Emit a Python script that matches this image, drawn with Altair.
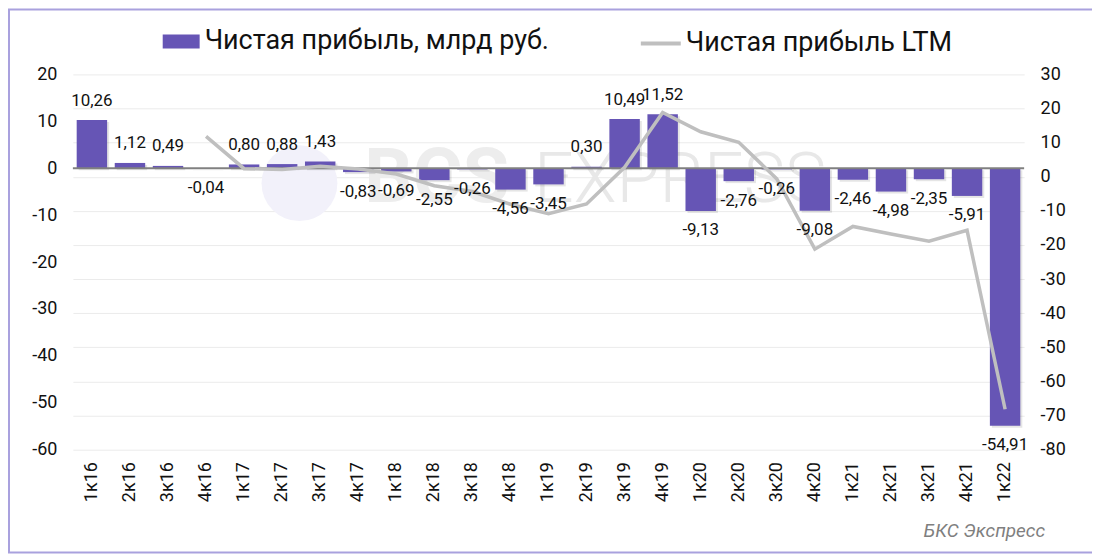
import altair as alt
import pandas as pd

quarters = ["1к16", "2к16", "3к16", "4к16", "1к17", "2к17", "3к17", "4к17",
            "1к18", "2к18", "3к18", "4к18", "1к19", "2к19", "3к19", "4к19",
            "1к20", "2к20", "3к20", "4к20", "1к21", "2к21", "3к21", "4к21", "1к22"]
profit = [10.26, 1.12, 0.49, -0.04, 0.80, 0.88, 1.43, -0.83,
          -0.69, -2.55, -0.26, -4.56, -3.45, 0.30, 10.49, 11.52,
          -9.13, -2.76, -0.26, -9.08, -2.46, -4.98, -2.35, -5.91, -54.91]
ltm = [None, None, None, 11.83, 2.37, 2.13, 3.07, 2.28,
       0.79, -2.64, -4.33, -8.06, -10.82, -7.97, 2.78, 18.86,
       13.18, 10.12, -0.63, -21.23, -14.56, -16.78, -18.87, -15.70, -68.15]
bar_name = "Чистая прибыль, млрд руб."
line_name = "Чистая прибыль LTM"
left_ticks = [-60, -50, -40, -30, -20, -10, 0, 10, 20]
right_ticks = [-80, -70, -60, -50, -40, -30, -20, -10, 0, 10, 20, 30]
source_text = "БКС Экспресс"
wm_bold = "BCS"
wm_light = "EXPRESS"

FONT = "Roboto"
PURPLE = "#6655B5"
LINE_GRAY = "#BFBFBF"
TXT = "#111111"

df = pd.DataFrame({"q": quarters, "v": profit, "ltm": ltm})
df["label"] = [f"{v:.2f}".replace(".", ",") for v in profit]
df["series"] = bar_name
df["series2"] = line_name

x = alt.X("q:N", sort=quarters,
          scale=alt.Scale(paddingInner=0.2, paddingOuter=0.1),
          axis=alt.Axis(title=None, labelAngle=-90, labelFont=FONT, labelFontSize=18,
                        labelColor=TXT, labelPadding=12, ticks=False, domain=False, grid=False))

left_scale = alt.Scale(domain=[-60, 20], nice=False, zero=False)
left_axis = alt.Axis(title=None, values=left_ticks, orient="left", grid=False,
                     ticks=False, tickSize=0, domain=False, labelPadding=16,
                     labelFont=FONT, labelFontSize=18, labelColor=TXT,
                     labelExpr="'' + datum.value")
yL = alt.Y("v:Q", scale=left_scale, axis=left_axis)
yL_noaxis = alt.Y("v:Q", scale=left_scale, axis=None)

base = alt.Chart(df)

shadow = base.mark_bar(color="#000000", opacity=0.10, xOffset=2, yOffset=2).encode(x=x, y=yL)

bars = base.mark_bar().encode(
    x=x, y=yL,
    color=alt.Color("series:N",
                    scale=alt.Scale(domain=[bar_name], range=[PURPLE]),
                    legend=alt.Legend(title=None, orient="none", legendX=90, legendY=-51.5,
                                      symbolType="M-1,-0.38L1,-0.38L1,0.38L-1,0.38Z",
                                      symbolSize=1369, symbolStrokeWidth=0,
                                      labelFont=FONT, labelFontSize=27, labelColor=TXT,
                                      labelLimit=600, labelOffset=5, padding=0)),
)

zero_rule = alt.Chart(pd.DataFrame({"z": [0]})).mark_rule(color="#808080", strokeWidth=2).encode(
    y=alt.Y("z:Q", scale=left_scale, axis=left_axis)
)

left_layer = alt.layer(shadow, bars, zero_rule)

lab_pos = base.transform_filter("datum.v >= 0").mark_text(
    font=FONT, fontSize=17, color=TXT, baseline="middle", dy=-19.5
).encode(x=x, y=yL_noaxis, text="label:N")
lab_neg = base.transform_filter("datum.v < 0").mark_text(
    font=FONT, fontSize=17, color=TXT, baseline="middle", dy=19.5
).encode(x=x, y=yL_noaxis, text="label:N")
labels = alt.layer(lab_pos, lab_neg)

line = base.mark_line(strokeWidth=3.5).encode(
    x=x,
    y=alt.Y("ltm:Q", scale=alt.Scale(domain=[-80, 30], nice=False, zero=False),
            axis=alt.Axis(title=None, values=right_ticks, orient="right", grid=True,
                          gridColor="#EBEBEB", gridWidth=1, ticks=False, tickSize=0,
                          domain=False, labelPadding=16, labelFont=FONT, labelFontSize=18,
                          labelColor=TXT, labelExpr="'' + datum.value")),
    stroke=alt.Stroke("series2:N",
                      scale=alt.Scale(domain=[line_name], range=[LINE_GRAY]),
                      legend=alt.Legend(title=None, orient="none", legendX=567, legendY=-53,
                                        symbolType="stroke", symbolSize=1600,
                                        symbolStrokeWidth=4,
                                        labelFont=FONT, labelFontSize=27, labelColor=TXT,
                                        labelLimit=600, labelOffset=3, padding=0)),
)

one = alt.Data(values=[{"a": 1}])
circle = alt.Chart(one).mark_point(filled=True, shape="circle", size=5776,
                                   color="#F2F1FA", opacity=1).encode(
    x=alt.value(227), y=alt.value(109))
wm1 = alt.Chart(one).mark_text(text=wm_bold, font=FONT, fontSize=76, fontWeight="bold",
                               color="#EDEDED", align="left", baseline="alphabetic").encode(
    x=alt.value(292), y=alt.value(128))
wm2 = alt.Chart(one).mark_text(text=wm_light, font=FONT, fontSize=70, fontWeight=300,
                               color="#E8E8E8", align="left", baseline="alphabetic").encode(
    x=alt.value(462), y=alt.value(128))
border = alt.Chart(one).mark_rect(fillOpacity=0, stroke="#A9A1DE", strokeWidth=2).encode(
    x=alt.value(-64), x2=alt.value(1022), y=alt.value(-65), y2=alt.value(479))
source = alt.Chart(one).mark_text(text=source_text, font=FONT, fontStyle="italic", fontSize=19,
                                  color="#7F7F7F", align="right", baseline="middle").encode(
    x=alt.value(974), y=alt.value(457))

deco = alt.layer(circle, wm1, wm2, border, source)

chart = alt.layer(deco, left_layer, line, labels).resolve_scale(
    y="independent", color="independent", stroke="independent"
).properties(
    width=953, height=376,
    padding={"left": 65, "top": 66, "right": 68, "bottom": 104},
    autosize=alt.AutoSizeParams(type="none"),
    background="white",
).configure_view(strokeWidth=0)

chart.save("out.html", embed_options={"renderer": "svg", "actions": False})
